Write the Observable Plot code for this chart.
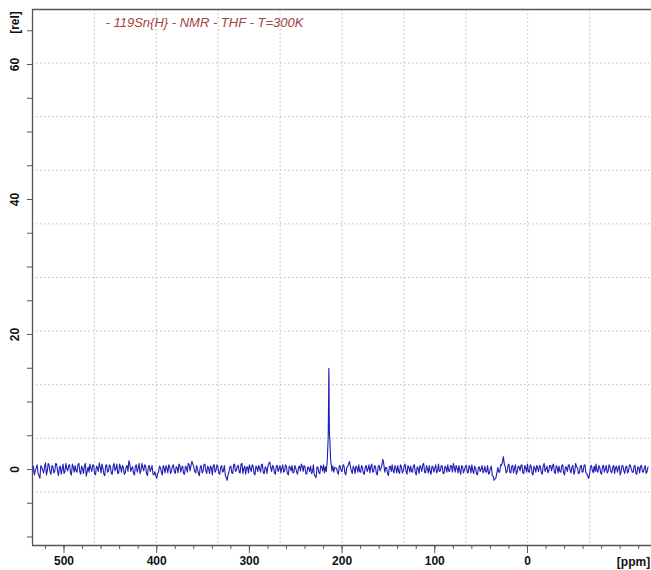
<!DOCTYPE html>
<html>
<head>
<meta charset="utf-8">
<script src="https://cdn.jsdelivr.net/npm/d3@7"></script>
<script src="https://cdn.jsdelivr.net/npm/@observablehq/plot@0.6"></script>
<style>
  html, body { margin: 0; padding: 0; background: #fff; }
  #chart svg { display: block; }
</style>
</head>
<body>
<div id="chart"></div>
<script>
// Spectral axis definition (ppm) and intensities [rel]
const leftStart = 534, leftStep = 2;   // even ppm 534 → 220
const noiseLeft = [
  -0.4, -0.8, 0.2, -0.6, -1.3, 0.3, -0.5, 1.0, -0.2, 0.6,
  -0.7, 0.4, -0.3, 0.8, -0.9, 0.5, 0.1, -0.6, 0.9, -0.2,
  0.7, -0.8, 0.3, 0.6, -0.4, 0.9, -0.7, 0.2, 0.5, -1.0,
  0.4, 0.8, -0.3, 0.6, -0.8, 0.3, 1.0, -0.5, 0.2, -0.9,
  0.7, -0.2, 0.5, -0.7, 0.9, 0.1, -0.6, 0.8, -0.4, 0.3,
  -0.5, 0.6, 1.3, -0.3, 0.4, -0.8, 0.7, 0.2, -0.6, 0.9,
  -0.2, 0.5, -0.9, 0.6, 0.1, -0.7, -0.3, -1.3, -0.4, 0.3,
  -0.8, 0.2, 0.6, -0.5, 0.4, -0.2, 0.7, -0.6, 0.3, 0.8,
  -0.4, 0.5, -0.7, 0.3, 0.9, -0.2, 1.2, 0.4, -0.5, 0.1,
  -0.9, 0.6, -0.3, 0.8, -0.6, 0.2, 0.5, -0.8, 0.7, -0.1,
  0.4, -0.7, 0.6, -0.2, -0.9, -1.6, -0.3, 0.5, -0.6, 0.8,
  -0.1, 0.6, -0.5, 0.9, 0.2, -0.7, 0.4, 0.7, -0.3, 0.5,
  -0.8, 0.3, 0.6, -0.4, 0.8, -0.6, 0.2, 0.5, 1.1, -0.3,
  0.4, -0.7, 0.6, 0.1, -0.5, 0.7, -0.2, 0.4, -0.8, 0.3,
  0.6, -0.4, 0.2, -0.7, 0.5, 0.8, -0.3, 0.4, -0.6, 0.2,
  0.5, -0.4, -0.8, -1.2, 0.3, -0.6, 0.4, 0.7
];
const leftOddStart = 533;               // odd ppm 533 → 221
const noiseLeftOdd = [
  0.5, -0.2, 0.7, -0.9, 0.6, -0.1, 0.4, -0.8, 0.9, -0.4,
  0.6, -0.5, 0.9, -0.2, 0.3, -0.7, 0.8, -0.3, 0.1, 0.6,
  -0.5, 0.8, -0.4, -0.2, 0.7, -0.3, 0.5, -0.6, 0.9, -0.3,
  -0.4, 0.2, 0.7, -0.6, 0.5, -0.3, 0.4, 0.8, -0.7, 0.6,
  -0.4, 0.7, -0.6, 0.5, -0.2, 0.8, -0.5, 0.3, 0.6, -0.7,
  0.4, -0.3, 0.8, 0.2, -0.6, 0.5, -0.4, 0.9, -0.2, 0.3,
  0.7, -0.6, 0.4, -0.3, 0.6, -0.8, -0.9, -0.6, 0.5, -0.4,
  0.6, -0.5, 0.2, 0.7, -0.6, 0.5, -0.3, 0.4, -0.5, 0.6,
  0.3, -0.6, 0.5, -0.4, 0.7, 0.6, 0.8, -0.3, 0.6, -0.6,
  0.4, -0.5, 0.7, -0.2, 0.5, -0.6, 0.3, 0.6, -0.4, 0.7,
  -0.5, 0.3, -0.4, 0.6, -1.2, -0.8, 0.4, -0.5, 0.7, -0.3,
  0.5, -0.4, 0.8, -0.6, 0.5, 0.3, -0.5, 0.2, 0.7, -0.6,
  0.5, -0.3, 0.2, 0.7, -0.5, 0.4, -0.6, 0.9, 0.3, 0.6,
  -0.5, 0.5, -0.3, 0.6, 0.2, -0.4, 0.7, -0.6, 0.5, -0.2,
  -0.5, 0.6, -0.4, 0.3, -0.2, 0.5, 0.6, -0.7, 0.4, -0.3,
  -0.6, 0.7, -1.0, 0.4, -0.5, 0.6, -0.2
];
const peakPpm = [219, 218, 217, 216.5, 216, 215.5, 215, 214.6, 214.3, 214.1, 213.9, 213.6, 213.2, 212.8, 212.4, 212, 211.5, 211, 210, 209, 208];
const peakVal = [-0.5, 0.4, -0.3, 0.6, 1.2, 3.0, 4.8, 9.5, 15.0, 13.5, 8.0, 5.0, 4.6, 3.0, 1.6, 1.0, 0.6, -0.2, 0.5, -0.4, 0.3];
const rightStart = 206, rightStep = 2;  // even ppm 206 → -130
const noiseRight = [
  0.2, -0.7, 0.5, -0.3, 0.6, -0.8, 0.4, 1.2, -0.2, 0.5,
  -0.6, 0.3, 0.7, -0.4, 0.2, -0.7, 0.6, 0.1, -0.5, 0.8,
  -0.3, 0.4, -0.8, 0.6, 0.2, 1.5, -0.4, 0.3, -0.9, 0.5,
  0.7, -0.5, 0.2, 0.6, -0.6, 0.4, -0.2, 0.8, -0.7, 0.3,
  0.5, -0.4, 0.7, -0.8, 0.2, 0.6, -0.3, 0.9, -0.5, 0.1,
  0.6, -0.7, 0.4, 0.2, -0.5, 0.8, -0.2, 0.5, -0.6, 0.3,
  0.7, -0.3, 0.5, 0.9, -0.4, 0.2, 0.6, -0.7, 0.4, -0.1,
  0.6, -0.5, 0.3, 0.7, -0.6, 0.2, -0.8, 0.4, 0.1, -0.5,
  0.5, -0.3, -0.7, 0.2, -0.9, -1.6, -1.2, 0.3, -0.4, 0.6,
  1.9, 0.4, -0.3, 0.8, -0.5, 0.6, 0.2, -0.7, 0.5, -0.2,
  0.7, -0.6, 0.3, 0.8, -0.4, 0.5, -0.8, 0.2, 0.6, -0.3,
  0.4, -0.7, 0.9, 0.1, -0.5, 0.6, -0.2, 0.8, -0.6, 0.3,
  0.5, -0.4, 0.7, -0.8, 0.3, 0.6, -0.2, 0.4, -0.7, 0.9,
  0.2, -0.5, 0.6, -0.3, 0.7, -0.6, -1.3, 0.4, -0.2, 0.5,
  0.8, -0.4, 0.3, -0.7, 0.6, 0.1, -0.5, 0.7, -0.3, 0.4,
  -0.6, 0.5, 0.2, -0.8, 0.6, -0.2, 0.4, -0.5, 0.7, 0.1,
  -0.4, 0.6, -0.7, 0.3, 0.5, -0.3, 0.2, -0.6, 0.4
];
const rightOddStart = 205;              // odd ppm 205 → -129
const noiseRightOdd = [
  -0.4, 0.6, -0.2, 0.7, -0.5, 0.3, 0.8, 0.4, -0.6, 0.2,
  0.5, -0.4, -0.3, 0.6, -0.6, 0.4, -0.3, 0.7, 0.4, -0.4,
  0.6, -0.6, 0.5, -0.2, 0.7, 0.8, 0.3, -0.6, 0.4, -0.3,
  -0.2, 0.6, -0.5, -0.3, 0.7, -0.5, 0.5, -0.3, 0.6, -0.4,
  -0.3, 0.6, -0.5, 0.4, -0.6, 0.3, 0.7, -0.4, 0.6, -0.5,
  -0.3, 0.5, -0.4, 0.7, -0.2, -0.3, 0.6, -0.6, 0.5, -0.4,
  -0.2, 0.6, -0.4, 0.3, 0.6, -0.5, -0.2, 0.6, -0.5, 0.5,
  -0.4, 0.6, -0.5, -0.2, 0.5, -0.6, 0.3, -0.3, 0.6, -0.2,
  -0.4, 0.6, -0.5, 0.5, -1.0, -1.4, -0.5, -0.4, 0.7, 1.1,
  0.8, -0.5, 0.6, -0.4, 0.5, -0.5, 0.7, -0.3, 0.4, 0.6,
  -0.5, 0.6, -0.4, -0.3, 0.7, -0.6, 0.5, -0.4, 0.2, 0.6,
  -0.5, 0.6, -0.3, 0.5, -0.2, 0.6, 0.5, -0.4, 0.6, -0.5,
  -0.3, 0.6, -0.5, 0.4, -0.3, 0.7, -0.5, 0.6, -0.3, 0.4,
  -0.6, 0.5, -0.4, 0.6, -0.5, -1.0, -0.7, 0.6, -0.5, -0.3,
  -0.2, 0.6, -0.5, 0.5, -0.4, 0.6, -0.3, 0.4, -0.5, 0.6,
  0.3, -0.4, 0.6, -0.3, 0.5, -0.6, 0.5, -0.3, 0.6, -0.4,
  0.5, -0.6, 0.4, -0.5, 0.6, -0.4, 0.6, -0.3
];
const xTicksMajor = [500, 400, 300, 200, 100, 0];
const xTicksMinor = d3.range(-120, 521, 20);
const yTicksMajor = [0, 20, 40, 60];
const yTicksMinor = d3.range(-10, 66, 5);
const xDomain = [534, -133.8];
const yDomain = [-11.26, 68.15];
const titleText = "- 119Sn{H} - NMR - THF - T=300K";

const spectrum = [
  ...noiseLeft.map((v, i) => ({ppm: leftStart - i * leftStep, v})),
  ...noiseLeftOdd.map((v, i) => ({ppm: leftOddStart - i * leftStep, v})),
  ...peakPpm.map((p, i) => ({ppm: p, v: peakVal[i]})),
  ...noiseRight.map((v, i) => ({ppm: rightStart - i * rightStep, v})),
  ...noiseRightOdd.map((v, i) => ({ppm: rightOddStart - i * rightStep, v}))
].sort((a, b) => b.ppm - a.ppm);

const gridX = d3.range(1, 10).map(k => xDomain[0] + (xDomain[1] - xDomain[0]) * k / 10);
const gridY = d3.range(1, 10).map(k => yDomain[0] + (yDomain[1] - yDomain[0]) * k / 10);

const font = "'Liberation Sans', Arial, sans-serif";
const axisColor = "#555";

const chart = Plot.plot({
  width: 651,
  height: 570,
  marginLeft: 32,
  marginRight: 0,
  marginTop: 9,
  marginBottom: 25,
  style: {background: "#fff", fontFamily: font},
  x: {domain: xDomain},
  y: {domain: yDomain},
  marks: [
    Plot.gridX(gridX, {stroke: "#bdbdbd", strokeOpacity: 1, strokeDasharray: "1.5,2.5"}),
    Plot.gridY(gridY, {stroke: "#bdbdbd", strokeOpacity: 1, strokeDasharray: "1.5,2.5"}),
    Plot.line(spectrum, {x: "ppm", y: "v", stroke: "#1e1eb4", strokeWidth: 1.1}),
    Plot.ruleX([xDomain[0]], {stroke: axisColor, strokeWidth: 1.3}),
    Plot.ruleY([yDomain[0]], {stroke: axisColor, strokeWidth: 1.3}),
    Plot.ruleY([yDomain[1]], {stroke: axisColor, strokeWidth: 1.3}),
    Plot.axisX({ticks: xTicksMinor, tickSize: 4, tickFormat: () => "", stroke: axisColor, label: null}),
    Plot.axisX({ticks: xTicksMajor, tickSize: 8, tickPadding: 3, stroke: axisColor, label: null,
      fontSize: 12, fontWeight: "bold", fontFamily: font, fill: "#111"}),
    Plot.axisY({ticks: yTicksMinor, tickSize: 5, tickFormat: () => "", stroke: axisColor, label: null}),
    Plot.text(yTicksMajor, {y: d => d, frameAnchor: "left", dx: -17, rotate: -90, text: d => String(d),
      textAnchor: "middle", lineAnchor: "middle", fontSize: 12, fontWeight: "bold", fontFamily: font, fill: "#111"}),
    Plot.text(["[rel]"], {frameAnchor: "top-left", dx: -17, dy: 13, rotate: -90, text: d => d,
      textAnchor: "middle", lineAnchor: "middle", fontSize: 12, fontWeight: "bold", fontFamily: font, fill: "#111"}),
    Plot.text(["[ppm]"], {frameAnchor: "bottom-right", dx: -18, dy: 17, text: d => d,
      textAnchor: "middle", lineAnchor: "middle", fontSize: 12, fontWeight: "bold", fontFamily: font, fill: "#111"}),
    Plot.text([titleText], {frameAnchor: "top-left", dx: 73, dy: 13, text: d => d,
      textAnchor: "start", lineAnchor: "middle", fontSize: 13, fontStyle: "italic", fontFamily: font, fill: "#a4423e"})
  ]
});
document.getElementById("chart").appendChild(chart);
</script>
</body>
</html>
